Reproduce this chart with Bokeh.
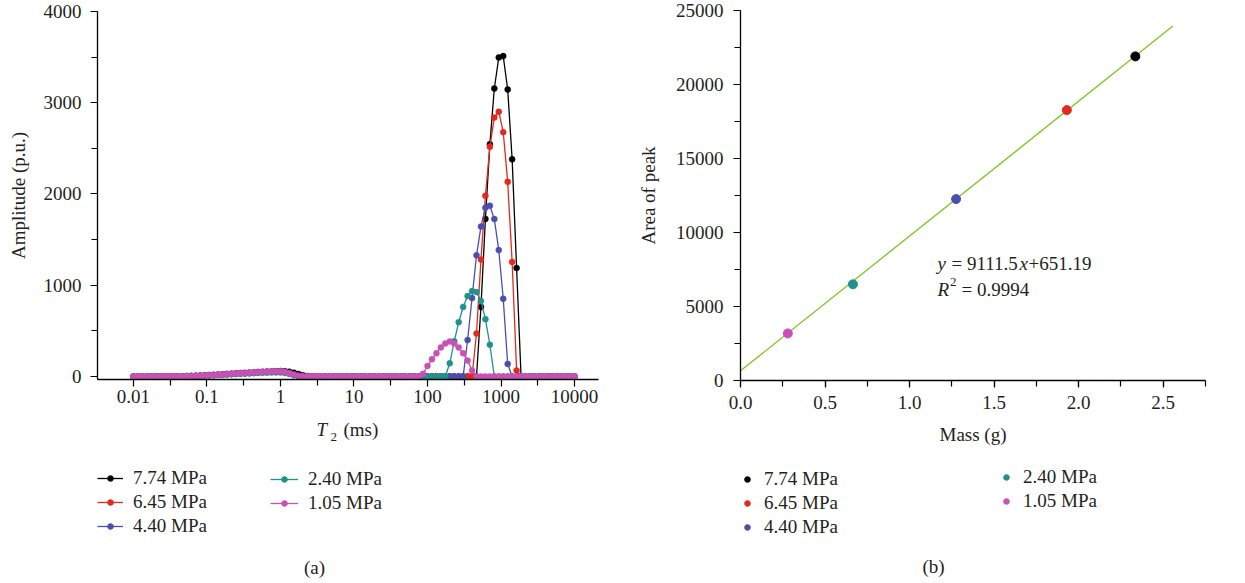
import numpy as np
from bokeh.plotting import figure
from bokeh.models import (FixedTicker, SingleIntervalTicker, CustomJSTickFormatter,
                          NumeralTickFormatter, Legend, LegendItem, Label, Range1d)
from bokeh.layouts import row, column
from bokeh.embed import file_html
from bokeh.resources import INLINE

FONT = "Liberation Serif"
FS = "19px"
TXT = "#231f20"

# ---------------- data: (a) T2 spectra ----------------
T2_MS = np.logspace(-2, 4, 100)          # inversion grid (ms)
LABELS = ["7.74 MPa", "6.45 MPa", "4.40 MPa", "2.40 MPa", "1.05 MPa"]
COLORS = ["#000000", "#e3281e", "#4a4fae", "#22908b", "#c951b6"]

# small bump around 1 ms (values from grid index BUMP_START on)
BUMP_START = 12
BUMP_774 = [3, 5, 7, 9, 11, 14, 17, 20, 23, 26, 29, 32, 35, 38, 41, 44, 47, 50, 53, 56, 58, 59, 57, 52, 42, 28, 14, 4, 0]
BUMP_645 = [3, 5, 7, 9, 11, 14, 17, 20, 23, 26, 29, 32, 35, 38, 41, 44, 47, 50, 53, 55, 57, 56, 50, 38, 22, 8, 0]
BUMP_440 = [3, 5, 7, 9, 11, 14, 17, 20, 23, 26, 29, 32, 35, 38, 41, 44, 47, 50, 52, 54, 56, 55, 49, 37, 20, 7, 0]
BUMP_240 = [2, 4, 5, 7, 9, 11, 13, 16, 18, 21, 24, 26, 29, 31, 34, 36, 38, 40, 42, 43, 44, 43, 38, 28, 14, 4, 0]
BUMP_105 = [3, 5, 7, 9, 11, 14, 17, 20, 23, 26, 29, 32, 35, 38, 41, 44, 47, 50, 52, 54, 55, 54, 48, 35, 18, 6, 0]

# main peaks (values from grid index *_START on)
PEAK_774_START = 77
PEAK_774 = [0, 762, 1727, 2546, 3156, 3496, 3511, 3145, 2380, 1189, 0]
PEAK_645_START = 76
PEAK_645 = [0, 471, 1281, 1980, 2517, 2837, 2902, 2677, 2133, 1255, 65, 0]
PEAK_440_START = 74
PEAK_440 = [0, 399, 860, 1328, 1643, 1850, 1872, 1725, 1385, 852, 138, 0]
PEAK_240_START = 70
PEAK_240 = [0, 145, 385, 595, 762, 881, 936, 925, 827, 628, 348, 0]
PEAK_105_START = 64
PEAK_105 = [0, 30, 116, 188, 254, 319, 362, 384, 362, 319, 254, 174, 65, 0]

BUMPS = [BUMP_774, BUMP_645, BUMP_440, BUMP_240, BUMP_105]
PEAKS = [PEAK_774, PEAK_645, PEAK_440, PEAK_240, PEAK_105]
PEAK_STARTS = [PEAK_774_START, PEAK_645_START, PEAK_440_START, PEAK_240_START, PEAK_105_START]

# ---------------- data: (b) calibration ----------------
MASS_G = [2.335, 1.93, 1.275, 0.665, 0.28]
AREA = [21900, 18270, 12260, 6500, 3180]
FIT_SLOPE = 9111.5
FIT_INTERCEPT = 651.19
FIT_X = [0.0, 2.557]


def build_series(bump, peak, peak_start):
    y = np.zeros(len(T2_MS))
    y[BUMP_START:BUMP_START + len(bump)] = bump
    y[peak_start:peak_start + len(peak)] = peak
    return y


def style_axis(ax):
    ax.axis_line_color = "black"
    ax.axis_line_width = 1.3
    ax.major_tick_line_color = "black"
    ax.minor_tick_line_color = "black"
    ax.major_tick_line_width = 1.2
    ax.minor_tick_line_width = 1.2
    ax.major_tick_in = 0
    ax.major_tick_out = 7
    ax.minor_tick_in = 0
    ax.minor_tick_out = 6
    ax.major_label_text_font = FONT
    ax.major_label_text_font_size = FS
    ax.major_label_text_color = TXT
    ax.axis_label_text_font = FONT
    ax.axis_label_text_font_size = FS
    ax.axis_label_text_font_style = "normal"
    ax.axis_label_text_color = TXT


def blank_fig(w, h, xr, yr, left, right):
    f = figure(width=w, height=h, x_range=xr, y_range=yr,
               x_axis_location=None, y_axis_location=None,
               output_backend="svg", toolbar_location=None,
               min_border=0, min_border_left=left, min_border_right=right,
               min_border_top=0, min_border_bottom=0)
    f.outline_line_color = None
    for g in f.grid:
        g.visible = False
    return f


def make_legend(its, loc, gw, gh):
    return Legend(items=its, location=loc, orientation="vertical",
                  label_text_font=FONT, label_text_font_size=FS, label_text_color=TXT,
                  glyph_width=gw, glyph_height=gh, label_height=20, label_standoff=10,
                  spacing=2, padding=0, margin=0, border_line_color=None,
                  background_fill_alpha=0)


# ================= (a) plot =================
pa = figure(width=622, height=420, x_axis_type="log",
            x_range=Range1d(0.00324, 21200), y_range=Range1d(-33, 4000),
            output_backend="svg", toolbar_location=None,
            min_border_left=97, min_border_right=24, min_border_top=11, min_border_bottom=41)
pa.outline_line_color = None
pa.grid.grid_line_color = None

for lab, col, bump, peak, ps in zip(LABELS, COLORS, BUMPS, PEAKS, PEAK_STARTS):
    y = build_series(bump, peak, ps)
    pa.line(T2_MS, y, line_color=col, line_width=1.3)
    pa.scatter(T2_MS, y, size=6, fill_color=col, line_color=col, line_width=0.5)

style_axis(pa.xaxis[0])
style_axis(pa.yaxis[0])
pa.xaxis[0].ticker = FixedTicker(ticks=[0.01, 0.1, 1, 10, 100, 1000, 10000],
                                 minor_ticks=[10 ** (k + 0.5) for k in range(-3, 4)])
pa.xaxis[0].formatter = CustomJSTickFormatter(code="return tick.toString()")
pa.xaxis[0].major_label_standoff = 3
pa.yaxis[0].ticker = SingleIntervalTicker(interval=1000, num_minor_ticks=2)
pa.yaxis[0].major_label_standoff = 9
pa.yaxis[0].axis_label = "Amplitude (p.u.)"
pa.yaxis[0].axis_label_standoff = 12

# (a) lower area (frame spans screen x 97..598, y 420..582): axis title, legend, caption
la = blank_fig(622, 162, Range1d(97, 598), Range1d(582, 420), 97, 24)
items_a = []
for lab, col in zip(LABELS, COLORS):
    lr = la.line(x=[-1e6, -2e6], y=[-1e6, -2e6], line_color=col, line_width=1.3)
    sr = la.scatter(x=[-1e6], y=[-1e6], size=5, fill_color=col, line_color=col)
    items_a.append(LegendItem(label=lab, renderers=[lr, sr]))
la.add_layout(make_legend(items_a[:3], (0, 45), 26, 14))
la.add_layout(make_legend(items_a[3:], (173, 68), 28, 14))

la.add_layout(Label(x=316, y=429, text="T", text_font=FONT, text_font_size=FS,
                    text_font_style="italic", text_color=TXT, text_baseline="alphabetic"))
la.add_layout(Label(x=330, y=436, text="2", text_font=FONT, text_font_size="13px",
                    text_color=TXT, text_baseline="alphabetic"))
la.add_layout(Label(x=343, y=429, text="(ms)", text_font=FONT, text_font_size=FS,
                    text_color=TXT, text_baseline="alphabetic"))
la.add_layout(Label(x=314, y=567, text="(a)", text_font=FONT, text_font_size=FS,
                    text_color=TXT, text_align="center", text_baseline="middle"))

# ================= (b) plot =================
pb = figure(width=622, height=455,
            x_range=Range1d(0, 2.75), y_range=Range1d(0, 25000),
            output_backend="svg", toolbar_location=None,
            min_border_left=118, min_border_right=39, min_border_top=10, min_border_bottom=75)
pb.outline_line_color = None
pb.grid.grid_line_color = None

fit_y = [FIT_SLOPE * x + FIT_INTERCEPT for x in FIT_X]
pb.line(FIT_X, fit_y, line_color="#7cc41f", line_width=1.3)
for col, m, a in zip(COLORS, MASS_G, AREA):
    pb.scatter([m], [a], size=9, fill_color=col, line_color=col)

style_axis(pb.xaxis[0])
style_axis(pb.yaxis[0])
pb.xaxis[0].ticker = SingleIntervalTicker(interval=0.5, num_minor_ticks=2)
pb.xaxis[0].formatter = NumeralTickFormatter(format="0.0")
pb.xaxis[0].major_label_standoff = 8
pb.xaxis[0].axis_label = "Mass (g)"
pb.xaxis[0].axis_label_standoff = 12
pb.yaxis[0].ticker = SingleIntervalTicker(interval=5000, num_minor_ticks=2)
pb.yaxis[0].major_label_standoff = 10
pb.yaxis[0].axis_label = "Area of peak"
pb.yaxis[0].axis_label_standoff = 14


def lab_b(x, y, t, size=FS, style="normal"):
    pb.add_layout(Label(x=x, y=y, x_units="screen", y_units="screen", text=t,
                        text_font=FONT, text_font_size=size, text_font_style=style,
                        text_color=TXT, text_baseline="alphabetic"))


lab_b(197, 117, "y", style="italic")
lab_b(211, 117, "= 9111.5")
lab_b(279, 117, "x", style="italic")
lab_b(288, 117, "+651.19")
lab_b(197, 91, "R", style="italic")
lab_b(209.5, 99, "2", size="13px")
lab_b(221, 91, "= 0.9994")

# (b) lower area (frame spans screen x 740..1205, y 455..582): legend, caption
lb = blank_fig(622, 127, Range1d(740, 1205), Range1d(582, 455), 118, 39)
items_b = []
for lab, col in zip(LABELS, COLORS):
    sr = lb.scatter(x=[-1e6], y=[-1e6], size=7, fill_color=col, line_color=col)
    items_b.append(LegendItem(label=lab, renderers=[sr]))
lb.add_layout(make_legend(items_b[:3], (0, 44), 14, 16))
lb.add_layout(make_legend(items_b[3:], (259, 70), 14, 16))
lb.add_layout(Label(x=933, y=566, text="(b)", text_font=FONT, text_font_size=FS,
                    text_color=TXT, text_align="center", text_baseline="middle"))

p = row(column(pa, la), column(pb, lb))
open("out.html", "w").write(file_html(p, INLINE))
